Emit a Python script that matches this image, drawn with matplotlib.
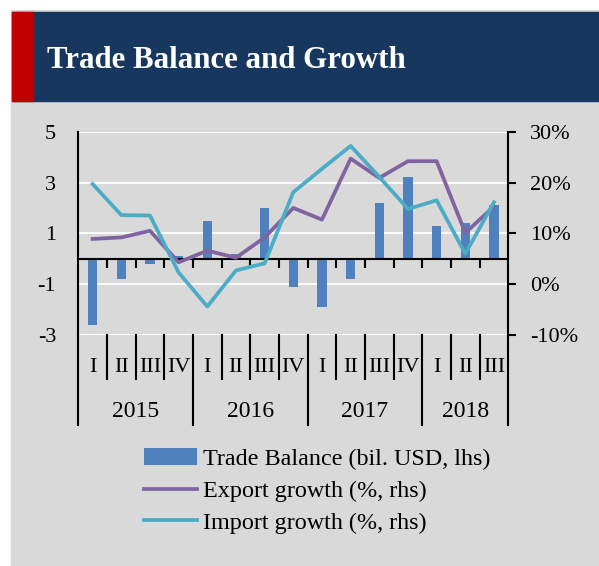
import matplotlib.pyplot as plt
from matplotlib.patches import Rectangle

plt.rcParams['font.family'] = ['Liberation Serif', 'DejaVu Serif']

# data
quarters = ['I', 'II', 'III', 'IV'] * 3 + ['I', 'II', 'III']
years = ['2015', '2016', '2017', '2018']
year_len = [4, 4, 4, 3]
trade_balance = [-2.6, -0.8, -0.2, 0.1, 1.5, 0.2, 2.0, -1.1, -1.9, -0.8, 2.2, 3.2, 1.3, 1.4, 2.1]
export_growth = [8.9, 9.2, 10.5, 4.3, 6.6, 5.2, 9.2, 15.0, 12.7, 24.7, 20.9, 24.2, 24.2, 10.1, 15.3]
import_growth = [19.7, 13.6, 13.5, 2.3, -4.4, 2.7, 4.1, 18.1, 22.7, 27.2, 21.1, 14.8, 16.5, 6.0, 16.1]
left_ticks = [-3, -1, 1, 3, 5]
right_ticks = [-10, 0, 10, 20, 30]

W, H = 599, 566
fig = plt.figure(figsize=(W / 100, H / 100), dpi=100)
fig.patch.set_facecolor('white')

# panel + header (kept behind the axes)
fig.patches.append(Rectangle((11 / W, 0), 1 - 11 / W, 1 - 10 / H, transform=fig.transFigure,
                             color='#D9D9D9', zorder=-10))
fig.patches.append(Rectangle((12 / W, 1 - 100.5 / H), 1 - 12 / W, 88.5 / H, transform=fig.transFigure,
                             color='#17375E', zorder=-9))
fig.patches.append(Rectangle((12 / W, 1 - 100.5 / H), 20.5 / W, 88.5 / H, transform=fig.transFigure,
                             color='#C00000', zorder=-8))
fig.text(47 / W, 1 - 68.3 / H, 'Trade Balance and Growth', color='white', fontsize=22.2,
         fontweight='bold', va='baseline', zorder=3)

ax = fig.add_axes([78.3 / W, 1 - 335 / H, 430 / W, 203.3 / H])
ax.patch.set_visible(False)
x = list(range(len(trade_balance)))
bars = ax.bar(x, trade_balance, width=0.32, color='#4F81BD', zorder=2,
              label='Trade Balance (bil. USD, lhs)')
ax.set_xlim(-0.5, len(x) - 0.5)
ax.set_ylim(-3, 5)
ax.set_yticks(left_ticks)
ax.set_yticklabels([str(t) for t in left_ticks])
ax.grid(axis='y', color='white', lw=1.3)
ax.set_axisbelow(True)
ax.axhline(0, color='black', lw=1.5, zorder=3)
ax.vlines([k + 0.5 for k in range(len(x) - 1)], -0.35, 0, color='black', lw=1.5, zorder=3)
ax.set_xticks([])
for s in ['top', 'bottom', 'right']:
    ax.spines[s].set_visible(False)
ax.spines['left'].set_linewidth(1.5)
ax.tick_params(axis='y', length=0, pad=16, labelsize=16)

# category axis below the plot
trans = ax.get_xaxis_transform()
year_bounds = [-0.5]
for n in year_len:
    year_bounds.append(year_bounds[-1] + n)
for b in [k - 0.5 for k in range(len(x) + 1)]:
    y_end = -0.4427 if b in year_bounds else -0.2164
    ax.plot([b, b], [0, y_end], transform=trans, color='black', lw=1.5, clip_on=False)
for i, q in enumerate(quarters):
    ax.text(i, -0.158, q, transform=trans, ha='center', va='center', fontsize=16)
for i, yr in enumerate(years):
    mid = (year_bounds[i] + year_bounds[i + 1]) / 2
    ax.text(mid, -0.378, yr, transform=trans, ha='center', va='center', fontsize=17)

ax2 = ax.twinx()
ax2.set_ylim(-10, 30)
ax2.set_yticks(right_ticks)
ax2.set_yticklabels([f'{t}%' for t in right_ticks])
l1, = ax2.plot(x, export_growth, color='#8064A2', lw=2.7, label='Export growth (%, rhs)')
l2, = ax2.plot(x, import_growth, color='#4BACC6', lw=2.7, label='Import growth (%, rhs)')
for s in ['top', 'bottom', 'left']:
    ax2.spines[s].set_visible(False)
ax2.spines['right'].set_linewidth(1.5)
ax2.tick_params(axis='y', direction='out', length=5.8, width=1.5, pad=10, labelsize=16)

fig.legend([bars, l1, l2], [bars.get_label(), l1.get_label(), l2.get_label()],
           loc='center left', bbox_to_anchor=(143.7 / W, 1 - 491 / H), frameon=False,
           fontsize=17.4, handlelength=2.2, handletextpad=0.25, labelspacing=0.4,
           borderpad=0, borderaxespad=0)

fig.savefig('out.png', dpi=100)
